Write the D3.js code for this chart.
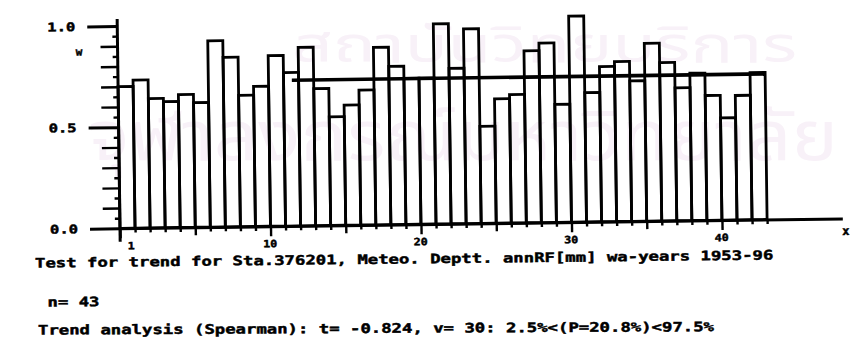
<!DOCTYPE html>
<html>
<head>
<meta charset="utf-8">
<script src="https://cdn.jsdelivr.net/npm/d3@7"></script>
<style>
  html, body { margin: 0; padding: 0; background: #fff; }
  svg { display: block; }
  text { font-family: "DejaVu Sans Mono", "Liberation Mono", monospace; font-weight: bold; fill: #000; }
  text.ink { stroke: #000; stroke-width: 0.45px; }
</style>
</head>
<body>
<svg id="chart" width="850" height="343"></svg>
<script>
// Annual rainfall index per year (1953-96), station 376201
const years = d3.range(1, 44);
const values = [
  0.700, 0.732, 0.639, 0.623, 0.657, 0.616, 0.921, 0.838, 0.649, 0.692,
  0.843, 0.759, 0.882, 0.677, 0.537, 0.594, 0.667, 0.877, 0.782, 0.722,
  0.722, 0.989, 0.768, 0.962, 0.480, 0.615, 0.635, 0.850, 0.887, 0.583,
  1.018, 0.639, 0.767, 0.791, 0.694, 0.879, 0.783, 0.657, 0.728, 0.617,
  0.505, 0.615, 0.727
];
// Mean level drawn across the later part of the record
const meanLine = { from: 11.55, to: 43, value: 0.72 };

const yMajorTicks = [0, 0.5, 1.0];
const yTickLabels = ["0.0", "0.5", "1.0"];
const xLabelTicks = [1, 10, 20, 30, 40];

const titleText = "Test for trend for Sta.376201, Meteo. Deptt. annRF[mm] wa-years 1953-96";
const countText = "n= 43";
const trendText = "Trend analysis (Spearman): t= -0.824, v= 30: 2.5%<(P=20.8%)<97.5%";
const watermark = ["สถาบันวิทยบริการ", "จุฬาลงกรณ์มหาวิทยาลัย"];

const svg = d3.select("#chart");

// faint background stamp
svg.append("text").text(watermark[0])
  .attr("x", 292).attr("y", 62)
  .attr("textLength", 505).attr("lengthAdjust", "spacingAndGlyphs")
  .style("font-family", "'Noto Sans Thai', 'Noto Sans', sans-serif")
  .style("font-weight", "normal").style("font-size", "50px")
  .style("fill", "#f8f1f8");
svg.append("text").text(watermark[1])
  .attr("x", 88).attr("y", 160)
  .attr("textLength", 750).attr("lengthAdjust", "spacingAndGlyphs")
  .style("font-family", "'Noto Sans Thai', 'Noto Sans', sans-serif")
  .style("font-weight", "normal").style("font-size", "70px")
  .style("fill", "#f8f1f8");

const x0 = 120, y0 = 228.3;
const x = d3.scaleLinear().domain([0, 48]).range([x0, 842.4]);
const y = d3.scaleLinear().domain([0, 1]).range([y0, 26]);

const g = svg.append("g").attr("transform", `rotate(-0.78, ${x0}, ${y0})`);

// bars: year i occupies the interval [i-1, i]
g.append("g").selectAll("rect")
  .data(years)
  .join("rect")
  .attr("x", d => x(d - 1))
  .attr("width", d => x(d) - x(d - 1))
  .attr("y", (d, i) => y(values[i]))
  .attr("height", (d, i) => y(0) - y(values[i]))
  .attr("fill", "none")
  .attr("stroke", "#000")
  .attr("stroke-width", 2.8);

// mean line
g.append("line")
  .attr("x1", x(meanLine.from)).attr("x2", x(meanLine.to))
  .attr("y1", y(meanLine.value)).attr("y2", y(meanLine.value))
  .attr("stroke", "#000").attr("stroke-width", 3.6);

// x axis with integer ticks below the line
const xAxis = d3.axisBottom(x)
  .tickValues(d3.range(0, 44))
  .tickSize(0).tickFormat("");
const xg = g.append("g").attr("transform", `translate(0,${y0})`).call(xAxis);
xg.select(".domain").attr("stroke", "#000").attr("stroke-width", 3);
xg.selectAll(".tick line")
  .attr("stroke", "#000").attr("stroke-width", 2.4)
  .attr("y2", d => d % 10 === 0 ? 10 : d % 5 === 0 ? 8 : 4.5);
g.append("g").selectAll("text")
  .data(xLabelTicks)
  .join("text")
  .attr("class", "ink")
  .attr("x", d => x(d) - 7.5)
  .attr("y", y0 + 21)
  .attr("textLength", d => String(d).length * 7)
  .attr("lengthAdjust", "spacingAndGlyphs")
  .style("font-size", "10px")
  .text(d => d);
g.append("text").text("x")
  .attr("class", "ink")
  .attr("x", 842).attr("y", y0 + 16.5)
  .style("font-size", "12px");

// y axis: major ticks at 0, 0.5, 1.0 and minor ticks every 0.05
const yAxis = d3.axisLeft(y).tickValues(yMajorTicks).tickSize(30).tickFormat("");
const yg = g.append("g").attr("transform", `translate(${x0},0)`).call(yAxis);
yg.select(".domain").remove();
yg.selectAll(".tick line").attr("stroke", "#000").attr("stroke-width", 3);
g.append("line")
  .attr("x1", x0).attr("x2", x0)
  .attr("y1", y(-0.066)).attr("y2", y(1.035))
  .attr("stroke", "#000").attr("stroke-width", 3);

const minor = d3.range(1, 20).filter(k => k !== 10).map(k => k * 0.05);
const minorAxis = d3.axisLeft(y).tickValues(minor).tickFormat("");
const mg = g.append("g").attr("transform", `translate(${x0},0)`).call(minorAxis);
mg.select(".domain").remove();
mg.selectAll(".tick line")
  .attr("stroke", "#000").attr("stroke-width", 2.4)
  .attr("x2", d => Math.round(d * 20) % 2 === 0 ? -17 : -5);

g.append("g").selectAll("text")
  .data(yMajorTicks)
  .join("text")
  .attr("class", "ink")
  .attr("x", 50)
  .attr("y", d => y(d) + 4.5)
  .attr("textLength", 28)
  .attr("lengthAdjust", "spacingAndGlyphs")
  .style("font-size", "12px")
  .text((d, i) => yTickLabels[i]);
g.append("text").text("w")
  .attr("class", "ink")
  .attr("x", 78).attr("y", 55)
  .style("font-size", "11px");

// caption lines in the wide printer face
const charW = 10.4;
function caption(str, tx, ty, angle) {
  svg.append("text")
    .attr("class", "ink")
    .attr("x", tx).attr("y", ty)
    .attr("transform", `rotate(${angle}, ${tx}, ${ty})`)
    .attr("textLength", str.length * charW)
    .attr("lengthAdjust", "spacingAndGlyphs")
    .style("font-size", "13px")
    .text(str);
}
caption(titleText, 35, 267.5, -0.62);
caption(countText, 47.5, 306.5, -0.5);
caption(trendText, 38, 334.5, -0.28);
</script>
</body>
</html>
